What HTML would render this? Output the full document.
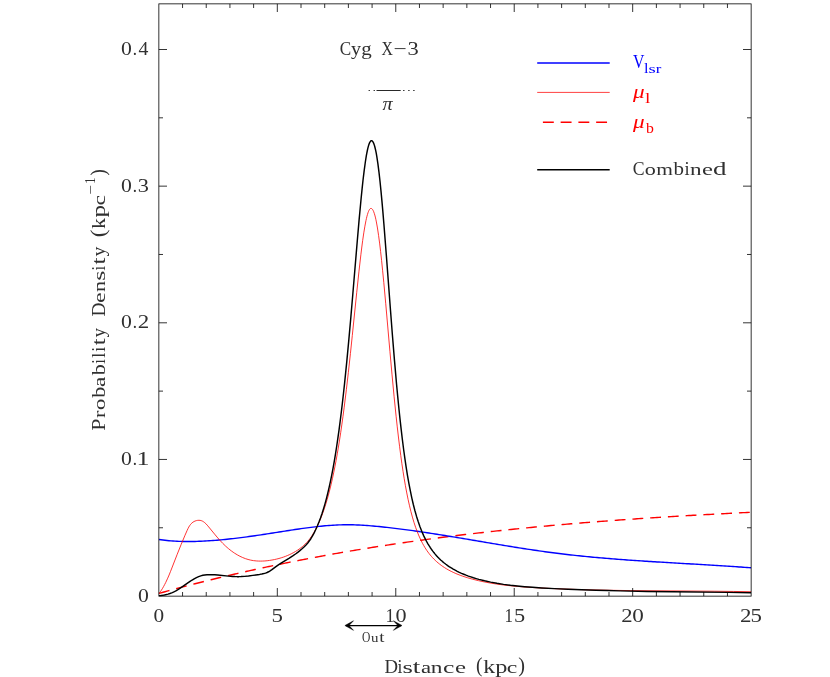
<!DOCTYPE html>
<html lang="en"><head><meta charset="utf-8"><title>Cyg X-3 distance PDF</title>
<style>
html,body{margin:0;padding:0;background:#fff;}
body{width:830px;height:677px;overflow:hidden;font-family:"Liberation Serif",serif;}
svg{display:block;will-change:transform;}
</style></head><body>
<svg width="830" height="677" viewBox="0 0 830 677">
<rect width="830" height="677" fill="#fff"/>
<g fill="none" stroke-linejoin="round" stroke-linecap="butt">
<path d="M159.00 593.38L161.00 592.82L163.00 592.27L165.00 591.72L167.00 591.17L169.00 590.62L171.00 590.08L173.00 589.54L175.00 589.00L177.00 588.46L179.00 587.93L181.00 587.40L183.00 586.87L185.00 586.35L187.00 585.83L189.00 585.31L191.00 584.79L193.00 584.27L195.00 583.76L197.00 583.25L199.00 582.74L201.00 582.24L203.00 581.73L205.00 581.23L207.00 580.74L209.00 580.24L211.00 579.75L213.00 579.26L215.00 578.77L217.00 578.28L219.00 577.80L221.00 577.32L223.00 576.84L225.00 576.37L227.00 575.89L229.00 575.42L231.00 574.95L233.00 574.49L235.00 574.02L237.00 573.56L239.00 573.10L241.00 572.64L243.00 572.19L245.00 571.74L247.00 571.29L249.00 570.84L251.00 570.40L253.00 569.95L255.00 569.51L257.00 569.07L259.00 568.64L261.00 568.20L263.00 567.77L265.00 567.34L267.00 566.92L269.00 566.49L271.00 566.07L273.00 565.65L275.00 565.23L277.00 564.81L279.00 564.40L281.00 563.99L283.00 563.58L285.00 563.17L287.00 562.77L289.00 562.36L291.00 561.96L293.00 561.57L295.00 561.17L297.00 560.78L299.00 560.38L301.00 559.99L303.00 559.61L305.00 559.22L307.00 558.84L309.00 558.45L311.00 558.08L313.00 557.70L315.00 557.32L317.00 556.95L319.00 556.58L321.00 556.21L323.00 555.84L325.00 555.48L327.00 555.11L329.00 554.75L331.00 554.40L333.00 554.04L335.00 553.68L337.00 553.33L339.00 552.98L341.00 552.63L343.00 552.28L345.00 551.94L347.00 551.60L349.00 551.25L351.00 550.92L353.00 550.58L355.00 550.24L357.00 549.91L359.00 549.58L361.00 549.25L363.00 548.92L365.00 548.60L367.00 548.27L369.00 547.95L371.00 547.63L373.00 547.31L375.00 547.00L377.00 546.68L379.00 546.37L381.00 546.06L383.00 545.75L385.00 545.44L387.00 545.14L389.00 544.83L391.00 544.53L393.00 544.23L395.00 543.93L397.00 543.64L399.00 543.34L401.00 543.05L403.00 542.76L405.00 542.47L407.00 542.18L409.00 541.89L411.00 541.61L413.00 541.33L415.00 541.05L417.00 540.77L419.00 540.49L421.00 540.22L423.00 539.94L425.00 539.67L427.00 539.40L429.00 539.13L431.00 538.86L433.00 538.60L435.00 538.33L437.00 538.07L439.00 537.81L441.00 537.55L443.00 537.29L445.00 537.04L447.00 536.78L449.00 536.53L451.00 536.28L453.00 536.03L455.00 535.78L457.00 535.53L459.00 535.29L461.00 535.05L463.00 534.80L465.00 534.56L467.00 534.32L469.00 534.09L471.00 533.85L473.00 533.62L475.00 533.38L477.00 533.15L479.00 532.92L481.00 532.69L483.00 532.47L485.00 532.24L487.00 532.02L489.00 531.80L491.00 531.57L493.00 531.35L495.00 531.14L497.00 530.92L499.00 530.70L501.00 530.49L503.00 530.28L505.00 530.07L507.00 529.86L509.00 529.65L511.00 529.44L513.00 529.23L515.00 529.03L517.00 528.83L519.00 528.62L521.00 528.42L523.00 528.22L525.00 528.03L527.00 527.83L529.00 527.63L531.00 527.44L533.00 527.25L535.00 527.06L537.00 526.87L539.00 526.68L541.00 526.49L543.00 526.30L545.00 526.12L547.00 525.93L549.00 525.75L551.00 525.57L553.00 525.39L555.00 525.21L557.00 525.03L559.00 524.85L561.00 524.68L563.00 524.50L565.00 524.33L567.00 524.16L569.00 523.99L571.00 523.82L573.00 523.65L575.00 523.48L577.00 523.32L579.00 523.15L581.00 522.99L583.00 522.82L585.00 522.66L587.00 522.50L589.00 522.34L591.00 522.18L593.00 522.02L595.00 521.87L597.00 521.71L599.00 521.56L601.00 521.40L603.00 521.25L605.00 521.10L607.00 520.95L609.00 520.80L611.00 520.65L613.00 520.50L615.00 520.35L617.00 520.21L619.00 520.06L621.00 519.92L623.00 519.78L625.00 519.64L627.00 519.50L629.00 519.36L631.00 519.22L633.00 519.08L635.00 518.94L637.00 518.80L639.00 518.67L641.00 518.53L643.00 518.40L645.00 518.27L647.00 518.14L649.00 518.00L651.00 517.87L653.00 517.75L655.00 517.62L657.00 517.49L659.00 517.36L661.00 517.24L663.00 517.11L665.00 516.99L667.00 516.86L669.00 516.74L671.00 516.62L673.00 516.50L675.00 516.38L677.00 516.26L679.00 516.14L681.00 516.02L683.00 515.90L685.00 515.78L687.00 515.67L689.00 515.55L691.00 515.44L693.00 515.32L695.00 515.21L697.00 515.10L699.00 514.98L701.00 514.87L703.00 514.76L705.00 514.65L707.00 514.54L709.00 514.43L711.00 514.33L713.00 514.22L715.00 514.11L717.00 514.00L719.00 513.90L721.00 513.79L723.00 513.69L725.00 513.59L727.00 513.48L729.00 513.38L731.00 513.28L733.00 513.17L735.00 513.07L737.00 512.97L739.00 512.87L741.00 512.77L743.00 512.67L745.00 512.58L747.00 512.48L749.00 512.38L751.00 512.28" stroke="#ff0000" stroke-width="1.4" stroke-dasharray="10.85 6.93"/>
<path d="M159.00 539.52L161.00 539.80L163.00 540.06L165.00 540.30L167.00 540.51L169.00 540.70L171.00 540.87L173.00 541.02L175.00 541.15L177.00 541.26L179.00 541.35L181.00 541.42L183.00 541.47L185.00 541.50L187.00 541.52L189.00 541.52L191.00 541.51L193.00 541.48L195.00 541.44L197.00 541.38L199.00 541.31L201.00 541.23L203.00 541.14L205.00 541.03L207.00 540.92L209.00 540.79L211.00 540.66L213.00 540.51L215.00 540.36L217.00 540.20L219.00 540.02L221.00 539.84L223.00 539.65L225.00 539.46L227.00 539.25L229.00 539.04L231.00 538.82L233.00 538.59L235.00 538.36L237.00 538.12L239.00 537.87L241.00 537.62L243.00 537.36L245.00 537.10L247.00 536.83L249.00 536.56L251.00 536.28L253.00 536.00L255.00 535.71L257.00 535.42L259.00 535.13L261.00 534.83L263.00 534.53L265.00 534.23L267.00 533.92L269.00 533.62L271.00 533.31L273.00 532.99L275.00 532.68L277.00 532.37L279.00 532.05L281.00 531.74L283.00 531.42L285.00 531.10L287.00 530.79L289.00 530.48L291.00 530.17L293.00 529.86L295.00 529.56L297.00 529.26L299.00 528.96L301.00 528.67L303.00 528.39L305.00 528.11L307.00 527.84L309.00 527.58L311.00 527.32L313.00 527.07L315.00 526.84L317.00 526.61L319.00 526.39L321.00 526.18L323.00 525.99L325.00 525.80L327.00 525.63L329.00 525.47L331.00 525.33L333.00 525.20L335.00 525.08L337.00 524.98L339.00 524.90L341.00 524.83L343.00 524.78L345.00 524.75L347.00 524.73L349.00 524.73L351.00 524.76L353.00 524.80L355.00 524.85L357.00 524.93L359.00 525.02L361.00 525.12L363.00 525.24L365.00 525.37L367.00 525.51L369.00 525.66L371.00 525.83L373.00 526.00L375.00 526.18L377.00 526.37L379.00 526.57L381.00 526.77L383.00 526.98L385.00 527.19L387.00 527.41L389.00 527.63L391.00 527.86L393.00 528.10L395.00 528.33L397.00 528.58L399.00 528.83L401.00 529.08L403.00 529.33L405.00 529.60L407.00 529.86L409.00 530.13L411.00 530.40L413.00 530.68L415.00 530.96L417.00 531.24L419.00 531.53L421.00 531.82L423.00 532.12L425.00 532.42L427.00 532.72L429.00 533.02L431.00 533.32L433.00 533.63L435.00 533.95L437.00 534.26L439.00 534.57L441.00 534.89L443.00 535.21L445.00 535.54L447.00 535.86L449.00 536.19L451.00 536.51L453.00 536.84L455.00 537.17L457.00 537.51L459.00 537.84L461.00 538.17L463.00 538.51L465.00 538.85L467.00 539.18L469.00 539.52L471.00 539.86L473.00 540.20L475.00 540.53L477.00 540.87L479.00 541.21L481.00 541.55L483.00 541.89L485.00 542.23L487.00 542.57L489.00 542.90L491.00 543.24L493.00 543.58L495.00 543.91L497.00 544.25L499.00 544.58L501.00 544.91L503.00 545.24L505.00 545.57L507.00 545.90L509.00 546.23L511.00 546.55L513.00 546.88L515.00 547.20L517.00 547.52L519.00 547.83L521.00 548.15L523.00 548.46L525.00 548.77L527.00 549.07L529.00 549.38L531.00 549.68L533.00 549.98L535.00 550.27L537.00 550.56L539.00 550.85L541.00 551.14L543.00 551.42L545.00 551.69L547.00 551.97L549.00 552.24L551.00 552.50L553.00 552.76L555.00 553.02L557.00 553.28L559.00 553.52L561.00 553.77L563.00 554.01L565.00 554.25L567.00 554.48L569.00 554.71L571.00 554.93L573.00 555.15L575.00 555.37L577.00 555.59L579.00 555.80L581.00 556.00L583.00 556.21L585.00 556.41L587.00 556.60L589.00 556.80L591.00 556.99L593.00 557.18L595.00 557.36L597.00 557.54L599.00 557.72L601.00 557.90L603.00 558.07L605.00 558.24L607.00 558.41L609.00 558.57L611.00 558.73L613.00 558.89L615.00 559.05L617.00 559.21L619.00 559.36L621.00 559.51L623.00 559.66L625.00 559.81L627.00 559.95L629.00 560.09L631.00 560.23L633.00 560.37L635.00 560.51L637.00 560.65L639.00 560.78L641.00 560.91L643.00 561.05L645.00 561.18L647.00 561.30L649.00 561.43L651.00 561.56L653.00 561.68L655.00 561.81L657.00 561.93L659.00 562.05L661.00 562.17L663.00 562.29L665.00 562.41L667.00 562.53L669.00 562.65L671.00 562.77L673.00 562.89L675.00 563.00L677.00 563.12L679.00 563.24L681.00 563.35L683.00 563.47L685.00 563.58L687.00 563.70L689.00 563.82L691.00 563.93L693.00 564.05L695.00 564.17L697.00 564.28L699.00 564.40L701.00 564.52L703.00 564.64L705.00 564.75L707.00 564.87L709.00 564.99L711.00 565.11L713.00 565.24L715.00 565.36L717.00 565.48L719.00 565.61L721.00 565.73L723.00 565.86L725.00 565.99L727.00 566.12L729.00 566.25L731.00 566.38L733.00 566.52L735.00 566.65L737.00 566.79L739.00 566.93L741.00 567.07L743.00 567.21L745.00 567.35L747.00 567.50L749.00 567.65L751.00 567.80" stroke="#0000ff" stroke-width="1.4"/>
<path d="M159.20 593.40L160.35 591.77L161.45 590.11L162.55 588.32L163.60 586.51L164.64 584.58L165.69 582.53L167.73 578.17L169.08 575.03L170.56 571.40L177.07 554.66L181.06 544.69L185.03 535.22L187.04 530.63L188.04 528.50L188.79 527.07L189.57 525.79L190.37 524.67L191.19 523.71L192.09 522.84L193.02 522.13L194.04 521.52L195.06 521.05L196.33 520.63L197.64 520.37L198.95 520.29L200.12 520.38L201.23 520.63L202.36 521.08L203.42 521.69L204.51 522.48L205.84 523.68L207.23 525.18L208.70 526.93L214.58 534.12L217.09 537.10L220.03 540.45L222.73 543.32L225.64 546.14L227.11 547.47L228.55 548.70L230.04 549.90L231.56 551.06L233.12 552.18L234.62 553.19L237.29 554.83L239.95 556.27L242.68 557.54L245.38 558.61L248.04 559.46L250.65 560.11L253.39 560.61L256.26 560.93L258.35 561.06L260.46 561.10L262.66 561.06L264.87 560.94L267.18 560.72L269.57 560.42L271.95 560.04L274.41 559.57L276.75 559.04L278.97 558.47L281.26 557.80L283.44 557.09L285.58 556.30L287.70 555.44L289.79 554.51L291.77 553.54L293.71 552.50L295.54 551.44L297.33 550.32L299.08 549.12L300.79 547.87L302.36 546.61L303.88 545.29L305.27 543.98L306.60 542.62L307.80 541.29L309.01 539.83L310.22 538.25L311.36 536.62L312.51 534.86L313.65 532.99L314.79 530.98L316.46 527.80L318.11 524.38L319.70 520.81L321.26 517.02L322.78 513.00L324.27 508.75L325.69 504.38L327.08 499.79L328.43 494.97L329.78 489.85L331.11 484.41L332.40 478.75L333.64 472.99L334.87 466.91L336.08 460.52L337.28 453.83L338.43 447.03L339.57 439.92L340.69 432.60L341.81 424.89L342.94 416.66L344.11 407.84L346.40 389.38L348.35 372.50L350.41 353.61L352.29 335.61L356.69 292.74L358.91 271.86L360.86 254.77L361.82 247.03L362.70 240.39L363.79 232.87L364.90 226.16L365.95 220.66L366.44 218.41L366.96 216.27L367.47 214.44L368.01 212.72L368.51 211.41L369.01 210.33L369.51 209.47L370.03 208.85L370.26 208.66L370.52 208.51L371.00 208.40L371.30 208.44L371.58 208.55L372.06 208.90L372.63 209.60L373.18 210.55L373.71 211.74L374.24 213.25L374.80 215.06L375.33 217.09L375.85 219.33L376.39 221.98L377.46 227.99L378.59 235.50L379.71 243.93L380.62 251.67L381.58 260.42L382.64 270.76L383.77 282.31L385.74 303.72L389.94 351.63L391.97 374.14L394.12 396.83L396.10 416.23L397.26 426.87L398.43 437.00L399.62 446.73L400.78 455.65L401.90 463.77L403.04 471.39L404.21 478.69L405.42 485.69L406.78 492.96L408.13 499.63L409.50 505.78L410.90 511.51L412.41 517.11L413.98 522.38L415.61 527.32L417.27 531.82L418.97 535.98L420.81 539.98L422.72 543.72L423.75 545.55L424.77 547.27L425.84 548.97L426.89 550.55L427.99 552.10L429.07 553.54L430.25 555.02L431.42 556.39L432.62 557.72L433.87 559.02L435.23 560.35L436.70 561.71L438.15 562.95L439.70 564.20L441.22 565.35L442.85 566.50L444.52 567.60L446.30 568.71L448.12 569.75L449.97 570.75L451.85 571.70L453.84 572.64L455.86 573.54L458.00 574.42L460.16 575.26L462.43 576.08L464.91 576.92L467.41 577.71L472.72 579.22L478.33 580.63L484.15 581.90L490.19 583.03L496.45 584.03L503.14 584.93L510.27 585.74L517.43 586.41L525.11 587.02L533.62 587.57L543.74 588.13L554.95 588.66L566.56 589.14L578.46 589.54L590.96 589.89L609.55 590.28L630.13 590.58L652.01 590.79L714.17 591.22L733.58 591.45L751.00 591.75" stroke="#ff0000" stroke-width="0.8"/>
<path d="M159.00 595.60L160.77 595.49L162.65 595.27L164.43 594.97L166.30 594.56L168.06 594.08L169.89 593.49L171.68 592.82L173.43 592.06L174.86 591.37L176.35 590.58L177.89 589.69L179.48 588.70L182.45 586.71L190.03 581.39L192.16 580.01L194.15 578.81L196.45 577.59L198.63 576.61L200.77 575.85L202.86 575.30L204.81 574.96L206.98 574.74L209.38 574.65L211.99 574.68L214.71 574.81L217.72 575.04L228.39 576.12L232.67 576.47L234.95 576.59L237.04 576.65L239.02 576.65L241.11 576.58L244.59 576.36L248.47 575.96L252.87 575.39L259.58 574.41L261.86 574.01L263.81 573.57L265.52 573.08L267.08 572.49L268.58 571.77L270.11 570.87L271.91 569.61L275.93 566.59L278.41 564.88L281.45 562.94L288.94 558.36L293.12 555.65L295.49 554.00L297.74 552.34L299.86 550.67L301.78 549.04L304.00 546.99L305.98 544.98L307.76 542.94L309.41 540.80L310.98 538.48L312.52 535.91L314.03 533.10L315.66 529.77L317.33 526.03L318.96 522.05L320.50 517.93L322.04 513.49L323.55 508.72L324.99 503.83L326.41 498.62L327.78 493.19L329.12 487.44L330.45 481.39L331.72 475.12L332.97 468.53L334.22 461.54L335.47 454.05L336.69 446.24L337.88 438.23L339.01 430.11L340.12 421.68L341.23 412.75L342.37 403.22L343.47 393.48L344.57 383.34L346.80 361.35L348.78 340.35L350.87 316.94L352.81 294.23L357.19 242.01L359.06 220.39L361.16 197.99L362.14 188.34L363.01 180.29L364.14 170.85L365.31 162.23L366.30 155.91L366.82 153.06L367.34 150.51L367.87 148.17L368.40 146.13L368.90 144.51L369.43 143.12L369.96 142.04L370.47 141.28L370.92 140.89L371.19 140.76L371.47 140.70L371.77 140.74L372.04 140.85L372.29 141.03L372.57 141.31L373.13 142.15L373.69 143.32L374.18 144.63L374.67 146.26L375.24 148.49L375.78 150.93L376.28 153.48L376.79 156.44L377.88 163.65L378.97 172.18L380.08 182.02L380.95 190.68L381.89 200.63L382.86 211.59L383.87 223.75L386.13 252.46L390.49 310.29L392.40 335.02L394.52 360.93L396.56 384.24L397.73 396.69L398.87 408.23L400.02 419.17L401.20 429.70L402.43 440.03L403.67 449.75L404.86 458.47L406.07 466.68L407.42 475.07L408.83 483.05L410.30 490.71L411.84 498.05L413.33 504.48L414.87 510.49L416.48 516.16L418.19 521.59L419.98 526.69L421.84 531.45L422.78 533.65L423.76 535.84L424.75 537.91L425.79 539.97L426.83 541.90L427.92 543.81L429.06 545.70L430.19 547.47L431.37 549.21L432.60 550.91L433.88 552.58L435.14 554.13L436.52 555.71L437.94 557.25L439.42 558.74L440.95 560.18L442.53 561.57L444.22 562.97L445.88 564.26L447.67 565.55L449.48 566.79L451.34 567.98L453.22 569.11L455.23 570.23L457.26 571.29L459.33 572.31L461.51 573.31L463.72 574.25L466.04 575.18L468.39 576.06L470.86 576.92L473.44 577.76L476.13 578.57L478.84 579.33L484.59 580.78L490.65 582.12L496.93 583.30L503.53 584.36L510.45 585.29L517.29 586.05L524.54 586.72L532.50 587.33L541.67 587.91L554.54 588.60L567.82 589.22L581.60 589.77L595.90 590.26L607.69 590.59L620.10 590.89L647.21 591.41L672.83 591.76L728.53 592.38L751.00 592.70" stroke="#000" stroke-width="1.45"/>
</g>
<g fill="none" stroke="#000">
<rect x="158.86" y="3.86" width="592.28" height="592.28" stroke-width="0.8"/>
<path d="M182.55 596.14V592.00M182.55 3.86V8.00M206.24 596.14V592.00M206.24 3.86V8.00M229.93 596.14V592.00M229.93 3.86V8.00M253.62 596.14V592.00M253.62 3.86V8.00M277.32 596.14V588.00M277.32 3.86V12.00M301.01 596.14V592.00M301.01 3.86V8.00M324.70 596.14V592.00M324.70 3.86V8.00M348.39 596.14V592.00M348.39 3.86V8.00M372.08 596.14V592.00M372.08 3.86V8.00M395.77 596.14V588.00M395.77 3.86V12.00M419.46 596.14V592.00M419.46 3.86V8.00M443.15 596.14V592.00M443.15 3.86V8.00M466.85 596.14V592.00M466.85 3.86V8.00M490.54 596.14V592.00M490.54 3.86V8.00M514.23 596.14V588.00M514.23 3.86V12.00M537.92 596.14V592.00M537.92 3.86V8.00M561.61 596.14V592.00M561.61 3.86V8.00M585.30 596.14V592.00M585.30 3.86V8.00M608.99 596.14V592.00M608.99 3.86V8.00M632.68 596.14V588.00M632.68 3.86V12.00M656.38 596.14V592.00M656.38 3.86V8.00M680.07 596.14V592.00M680.07 3.86V8.00M703.76 596.14V592.00M703.76 3.86V8.00M727.45 596.14V592.00M727.45 3.86V8.00M158.86 527.77H163.00M751.14 527.77H747.00M158.86 459.45H167.00M751.14 459.45H743.00M158.86 391.12H163.00M751.14 391.12H747.00M158.86 322.80H167.00M751.14 322.80H743.00M158.86 254.48H163.00M751.14 254.48H747.00M158.86 186.15H167.00M751.14 186.15H743.00M158.86 117.82H163.00M751.14 117.82H747.00M158.86 49.50H167.00M751.14 49.50H743.00" stroke-width="0.8"/>
</g>
<g fill="none">
<path d="M537.2 62.93H609.7" stroke="#0000ff" stroke-width="1.5"/>
<path d="M537.2 92.4H609.7" stroke="#ff0000" stroke-width="0.75"/>
<path d="M542.9 122.2H607.2" stroke="#ff0000" stroke-width="1.45" stroke-dasharray="10.9 6.85"/>
<path d="M537.2 169.7H609.7" stroke="#000" stroke-width="1.5"/>
</g>
<g fill="none" stroke="#111" stroke-width="0.9">
<path d="M376.5 90.5H400.7"/>
<path d="M368.6 90.5h1.3M373.6 90.5h1.3M403.1 90.5h1.4M408.2 90.5h1.4M413.2 90.5h1.4"/>
</g>
<path d="M346 625.55H401" fill="none" stroke="#000" stroke-width="1.15"/>
<g fill="#000" stroke="#000" stroke-width="0.5" stroke-linejoin="miter">
<path d="M344.9 625.55L353.5 620.75L349.0 625.55L353.5 630.35Z"/>
<path d="M402.0 625.55L393.4 620.75L397.9 625.55L393.4 630.35Z"/>
</g>
<g font-family="Liberation Serif, serif" fill="#303030">
<text transform="translate(120.92 55.35) scale(1.155 1.000)" font-size="18.8px">0</text><text transform="translate(132.68 55.35) scale(0.900 1.000)" font-size="18.8px">.</text><text transform="translate(138.41 55.35) scale(1.053 1.000)" font-size="18.8px">4</text>
<text transform="translate(120.92 191.90) scale(1.155 1.000)" font-size="18.8px">0</text><text transform="translate(132.68 191.90) scale(0.900 1.000)" font-size="18.8px">.</text><text transform="translate(137.73 191.90) scale(1.185 1.000)" font-size="18.8px">3</text>
<text transform="translate(120.92 328.45) scale(1.155 1.000)" font-size="18.8px">0</text><text transform="translate(132.68 328.45) scale(0.900 1.000)" font-size="18.8px">.</text><text transform="translate(137.79 328.45) scale(1.221 1.000)" font-size="18.8px">2</text>
<text transform="translate(120.92 465.00) scale(1.155 1.000)" font-size="18.8px">0</text><text transform="translate(132.68 465.00) scale(0.900 1.000)" font-size="18.8px">.</text><text transform="translate(136.50 465.00) scale(1.390 1.000)" font-size="18.8px">1</text>
<text transform="translate(137.97 601.80) scale(1.155 1.000)" font-size="18.8px">0</text>
<text transform="translate(153.39 621.90) scale(1.130 1.000)" font-size="18.8px">0</text>
<text transform="translate(271.47 621.90) scale(1.215 1.000)" font-size="18.8px">5</text>
<text transform="translate(385.60 621.90) scale(0.967 1.000)" font-size="18.8px">1</text><text transform="translate(395.56 621.90) scale(1.180 1.000)" font-size="18.8px">0</text>
<text transform="translate(504.50 621.90) scale(0.907 1.000)" font-size="18.8px">1</text><text transform="translate(513.90 621.90) scale(1.188 1.000)" font-size="18.8px">5</text>
<text transform="translate(621.20 621.90) scale(1.207 1.000)" font-size="18.8px">2</text><text transform="translate(632.32 621.90) scale(1.230 1.000)" font-size="18.8px">0</text>
<text transform="translate(739.99 621.90) scale(1.221 1.000)" font-size="18.8px">2</text><text transform="translate(750.47 621.90) scale(1.215 1.000)" font-size="18.8px">5</text>
<text transform="translate(339.70 54.70) scale(0.923 1.000)" font-size="18.6px">C</text><text transform="translate(351.06 54.70) scale(1.078 1.000)" font-size="18.6px">y</text><text transform="translate(361.20 54.70) scale(1.129 1.000)" font-size="18.6px">g</text><text transform="translate(381.61 54.70) scale(0.850 1.000)" font-size="18.6px">X</text><text transform="translate(393.43 54.70) scale(1.259 1.000)" font-size="18.6px">−</text><text transform="translate(407.62 54.70) scale(1.210 1.000)" font-size="18.6px">3</text>
<text transform="translate(382.59 110.00) scale(1.089 1.000)" font-size="18.6px" font-style="italic">π</text>
<text transform="translate(384.52 672.70) scale(1.011 1.000)" font-size="18.6px">D</text><text transform="translate(397.53 672.70) scale(0.938 1.000)" font-size="18.6px">i</text><text transform="translate(402.41 672.70) scale(1.430 0.910)" font-size="18.6px">s</text><text transform="translate(412.70 672.70) scale(1.450 1.000)" font-size="18.6px">t</text><text transform="translate(421.10 672.70) scale(1.225 0.910)" font-size="18.6px">a</text><text transform="translate(430.86 672.70) scale(1.257 0.910)" font-size="18.6px">n</text><text transform="translate(443.02 672.70) scale(1.376 0.910)" font-size="18.6px">c</text><text transform="translate(454.93 672.70) scale(1.336 0.910)" font-size="18.6px">e</text><text transform="translate(476.04 672.35) scale(1.047 1.120)" font-size="18.6px">(</text><text transform="translate(483.35 672.70) scale(1.274 1.000)" font-size="18.6px">k</text><text transform="translate(495.21 672.70) scale(1.305 1.000)" font-size="18.6px">p</text><text transform="translate(506.80 672.70) scale(1.276 0.910)" font-size="18.6px">c</text><text transform="translate(518.35 672.35) scale(1.089 1.120)" font-size="18.6px">)</text>
<text transform="translate(632.87 174.70) scale(0.951 1.000)" font-size="18.6px">C</text><text transform="translate(644.66 174.70) scale(1.192 0.910)" font-size="18.6px">o</text><text transform="translate(656.15 174.70) scale(1.153 0.910)" font-size="18.6px">m</text><text transform="translate(673.40 174.70) scale(1.129 1.000)" font-size="18.6px">b</text><text transform="translate(684.61 174.70) scale(0.995 1.000)" font-size="18.6px">i</text><text transform="translate(690.07 174.70) scale(1.245 0.910)" font-size="18.6px">n</text><text transform="translate(701.94 174.70) scale(1.322 0.910)" font-size="18.6px">e</text><text transform="translate(713.03 174.70) scale(1.450 1.000)" font-size="18.6px">d</text>
<text transform="translate(361.93 641.70) scale(0.797 1.000)" font-size="14.5px">O</text><text transform="translate(370.90 641.70) scale(1.028 0.910)" font-size="14.5px">u</text><text transform="translate(379.21 641.70) scale(1.315 1.000)" font-size="14.5px">t</text>
<g transform="translate(104.9 430) rotate(-90)">
<text transform="translate(-0.63 0.00) scale(1.181 1.000)" font-size="18.6px">P</text><text transform="translate(11.95 0.00) scale(1.202 0.910)" font-size="18.6px">r</text><text transform="translate(19.93 0.00) scale(1.230 0.910)" font-size="18.6px">o</text><text transform="translate(32.20 0.00) scale(1.187 1.000)" font-size="18.6px">b</text><text transform="translate(42.97 0.00) scale(1.266 0.910)" font-size="18.6px">a</text><text transform="translate(54.80 0.00) scale(1.187 1.000)" font-size="18.6px">b</text><text transform="translate(66.36 0.00) scale(0.882 1.000)" font-size="18.6px">i</text><text transform="translate(72.24 0.00) scale(0.972 1.000)" font-size="18.6px">l</text><text transform="translate(78.23 0.00) scale(0.950 1.000)" font-size="18.6px">i</text><text transform="translate(84.66 0.00) scale(1.312 1.000)" font-size="18.6px">t</text><text transform="translate(92.57 0.00) scale(1.033 1.000)" font-size="18.6px">y</text><text transform="translate(113.44 0.00) scale(1.037 1.000)" font-size="18.6px">D</text><text transform="translate(127.06 0.00) scale(1.293 0.910)" font-size="18.6px">e</text><text transform="translate(137.89 0.00) scale(1.199 0.910)" font-size="18.6px">n</text><text transform="translate(149.14 0.00) scale(1.396 0.910)" font-size="18.6px">s</text><text transform="translate(159.46 0.00) scale(0.882 1.000)" font-size="18.6px">i</text><text transform="translate(165.45 0.00) scale(1.353 1.000)" font-size="18.6px">t</text><text transform="translate(173.56 0.00) scale(1.067 1.000)" font-size="18.6px">y</text><text transform="translate(192.87 -0.35) scale(1.256 1.120)" font-size="18.6px">(</text><text transform="translate(201.08 0.00) scale(1.185 1.000)" font-size="18.6px">k</text><text transform="translate(212.49 0.00) scale(1.354 1.000)" font-size="18.6px">p</text><text transform="translate(224.51 0.00) scale(1.262 0.910)" font-size="18.6px">c</text>
<text transform="translate(235.44 -9.90) scale(1.228 1.000)" font-size="14px">−</text><text transform="translate(246.05 -9.90) scale(0.933 1.000)" font-size="14px">1</text>
<text transform="translate(254.25 -0.35) scale(1.089 1.120)" font-size="18.6px">)</text>
</g>
</g>
<g font-family="Liberation Serif, serif" fill="#0000ff">
<text transform="translate(632.89 68.10) scale(0.850 1.000)" font-size="18.6px">V</text>
<text transform="translate(643.97 73.20) scale(1.171 1.000)" font-size="14px">l</text><text transform="translate(648.54 73.20) scale(1.328 0.910)" font-size="14px">s</text><text transform="translate(655.76 73.20) scale(1.198 0.910)" font-size="14px">r</text>
</g>
<g font-family="Liberation Serif, serif" fill="#ff0000">
<text transform="translate(633.02 97.80) scale(1.221 1.000)" font-size="19px" font-style="italic">μ</text>
<text transform="translate(644.91 102.50) scale(1.382 1.000)" font-size="14px">l</text>
<text transform="translate(633.02 127.70) scale(1.221 1.000)" font-size="19px" font-style="italic">μ</text>
<text transform="translate(646.00 132.50) scale(1.129 1.000)" font-size="14px">b</text>
</g>
</svg>
</body></html>
